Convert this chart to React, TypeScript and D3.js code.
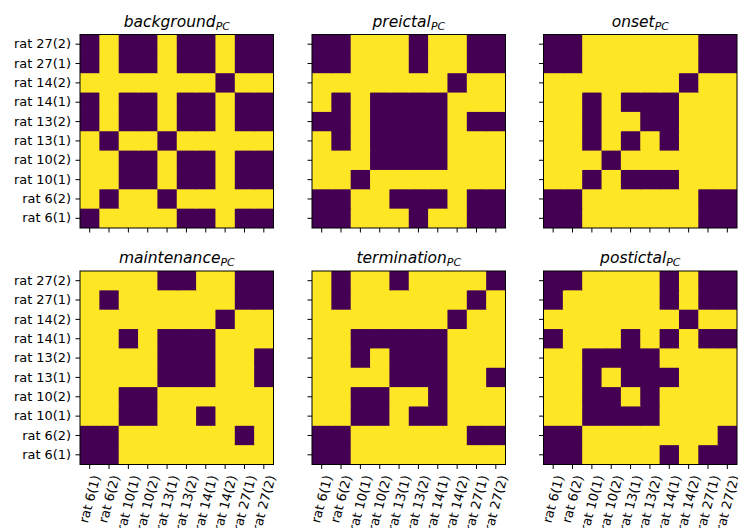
import React, { useEffect, useRef } from 'react';
import * as d3 from 'd3';

const cats = ["rat 6(1)", "rat 6(2)", "rat 10(1)", "rat 10(2)", "rat 13(1)", "rat 13(2)", "rat 14(1)", "rat 14(2)", "rat 27(1)", "rat 27(2)"];

// rows follow cats order (rat 6(1) first = bottom row), 1 = yellow, 0 = purple
const background = [
  [0, 1, 1, 1, 1, 0, 0, 1, 0, 0],
  [1, 0, 1, 1, 0, 1, 1, 1, 1, 1],
  [1, 1, 0, 0, 1, 0, 0, 1, 0, 0],
  [1, 1, 0, 0, 1, 0, 0, 1, 0, 0],
  [1, 0, 1, 1, 0, 1, 1, 1, 1, 1],
  [0, 1, 0, 0, 1, 0, 0, 1, 0, 0],
  [0, 1, 0, 0, 1, 0, 0, 1, 0, 0],
  [1, 1, 1, 1, 1, 1, 1, 0, 1, 1],
  [0, 1, 0, 0, 1, 0, 0, 1, 0, 0],
  [0, 1, 0, 0, 1, 0, 0, 1, 0, 0],
];

const preictal = [
  [0, 0, 1, 1, 1, 0, 1, 1, 0, 0],
  [0, 0, 1, 1, 0, 0, 0, 1, 0, 0],
  [1, 1, 0, 1, 1, 1, 1, 1, 1, 1],
  [1, 1, 1, 0, 0, 0, 0, 1, 1, 1],
  [1, 0, 1, 0, 0, 0, 0, 1, 1, 1],
  [0, 0, 1, 0, 0, 0, 0, 1, 0, 0],
  [1, 0, 1, 0, 0, 0, 0, 1, 1, 1],
  [1, 1, 1, 1, 1, 1, 1, 0, 1, 1],
  [0, 0, 1, 1, 1, 0, 1, 1, 0, 0],
  [0, 0, 1, 1, 1, 0, 1, 1, 0, 0],
];

const onset = [
  [0, 0, 1, 1, 1, 1, 1, 1, 0, 0],
  [0, 0, 1, 1, 1, 1, 1, 1, 0, 0],
  [1, 1, 0, 1, 0, 0, 0, 1, 1, 1],
  [1, 1, 1, 0, 1, 1, 1, 1, 1, 1],
  [1, 1, 0, 1, 0, 1, 0, 1, 1, 1],
  [1, 1, 0, 1, 1, 0, 0, 1, 1, 1],
  [1, 1, 0, 1, 0, 0, 0, 1, 1, 1],
  [1, 1, 1, 1, 1, 1, 1, 0, 1, 1],
  [0, 0, 1, 1, 1, 1, 1, 1, 0, 0],
  [0, 0, 1, 1, 1, 1, 1, 1, 0, 0],
];

const maintenance = [
  [0, 0, 1, 1, 1, 1, 1, 1, 1, 1],
  [0, 0, 1, 1, 1, 1, 1, 1, 0, 1],
  [1, 1, 0, 0, 1, 1, 0, 1, 1, 1],
  [1, 1, 0, 0, 1, 1, 1, 1, 1, 1],
  [1, 1, 1, 1, 0, 0, 0, 1, 1, 0],
  [1, 1, 1, 1, 0, 0, 0, 1, 1, 0],
  [1, 1, 0, 1, 0, 0, 0, 1, 1, 1],
  [1, 1, 1, 1, 1, 1, 1, 0, 1, 1],
  [1, 0, 1, 1, 1, 1, 1, 1, 0, 0],
  [1, 1, 1, 1, 0, 0, 1, 1, 0, 0],
];

const termination = [
  [0, 0, 1, 1, 1, 1, 1, 1, 1, 1],
  [0, 0, 1, 1, 1, 1, 1, 1, 0, 0],
  [1, 1, 0, 0, 1, 0, 0, 1, 1, 1],
  [1, 1, 0, 0, 1, 1, 0, 1, 1, 1],
  [1, 1, 1, 1, 0, 0, 0, 1, 1, 0],
  [1, 1, 0, 1, 0, 0, 0, 1, 1, 1],
  [1, 1, 0, 0, 0, 0, 0, 1, 1, 1],
  [1, 1, 1, 1, 1, 1, 1, 0, 1, 1],
  [1, 0, 1, 1, 1, 1, 1, 1, 0, 1],
  [1, 0, 1, 1, 0, 1, 1, 1, 1, 0],
];

const postictal = [
  [0, 0, 1, 1, 1, 1, 0, 1, 0, 0],
  [0, 0, 1, 1, 1, 1, 1, 1, 1, 0],
  [1, 1, 0, 0, 0, 0, 1, 1, 1, 1],
  [1, 1, 0, 0, 1, 0, 1, 1, 1, 1],
  [1, 1, 0, 1, 0, 0, 0, 1, 1, 1],
  [1, 1, 0, 0, 0, 0, 1, 1, 1, 1],
  [0, 1, 1, 1, 0, 1, 0, 1, 0, 0],
  [1, 1, 1, 1, 1, 1, 1, 0, 1, 1],
  [0, 1, 1, 1, 1, 1, 0, 1, 0, 0],
  [0, 0, 1, 1, 1, 1, 0, 1, 0, 0],
];

const titles = ["background", "preictal", "onset", "maintenance", "termination", "postictal"];
const matrices = [background, preictal, onset, maintenance, termination, postictal];

export default function App() {
  const svgRef = useRef<SVGSVGElement>(null);

  useEffect(() => {
    if (!svgRef.current) return;
    const svg = d3.select(svgRef.current);
    svg.selectAll("*").remove();

    const size = 193.5;
    const lefts = [80, 312, 543.5];
    const tops = [34.5, 271];
    const font = "DejaVu Sans, sans-serif";
    const tickFs = 12.9;
    const rot = 75;

    const color = d3.scaleSequential(d3.interpolateViridis).domain([0, 1]);
    const x = d3.scaleBand().domain(cats).range([0, size]);
    const y = d3.scaleBand().domain(cats).range([size, 0]);
    const bw = x.bandwidth();

    matrices.forEach((m, p) => {
      const col = p % 3;
      const row = Math.floor(p / 3);
      const g = svg.append("g").attr("transform", `translate(${lefts[col]},${tops[row]})`);

      // cells overlap a little so no seams show between equal neighbours
      const cells = m.flatMap((r, i) => r.map((v, j) => ({ i, j, v })));
      g.selectAll(".cell")
        .data(cells)
        .enter()
        .append("rect")
        .attr("x", d => x(cats[d.j])!)
        .attr("y", d => y(cats[d.i])! - (d.i < cats.length - 1 ? 0.8 : 0))
        .attr("width", d => bw + (d.j < cats.length - 1 ? 0.8 : 0))
        .attr("height", d => bw + (d.i < cats.length - 1 ? 0.8 : 0))
        .attr("fill", d => color(d.v));

      // spines
      g.append("rect")
        .attr("width", size).attr("height", size)
        .attr("fill", "none").attr("stroke", "black").attr("stroke-width", 1);

      // y ticks
      const yAx = g.append("g").call(
        d3.axisLeft(y).tickSize(4.5).tickPadding(4.5).tickSizeOuter(0)
          .tickFormat(col === 0 ? (d: string) => d : () => "")
      );
      yAx.select(".domain").remove();
      yAx.selectAll("line").attr("stroke", "black").attr("stroke-width", 1);
      yAx.selectAll("text").attr("font-family", font).attr("font-size", tickFs).attr("fill", "black");

      // x ticks
      const xAx = g.append("g").attr("transform", `translate(0,${size})`).call(
        d3.axisBottom(x).tickSize(4.5).tickSizeOuter(0).tickFormat(() => "")
      );
      xAx.select(".domain").remove();
      xAx.selectAll("line").attr("stroke", "black").attr("stroke-width", 1);

      if (row === 1) {
        const y0 = size + 9;
        const rad = (rot * Math.PI) / 180;
        const lh = tickFs * 1.17;
        cats.forEach(c => {
          const t = g.append("text")
            .attr("font-family", font)
            .attr("font-size", tickFs)
            .attr("text-anchor", "middle")
            .attr("dy", "0.35em")
            .text(c);
          const L = (t.node() as SVGTextElement).getComputedTextLength();
          const H = L * Math.sin(rad) + lh * Math.cos(rad);
          const cx = x(c)! + bw / 2;
          const cy = y0 + H / 2;
          t.attr("transform", `translate(${cx},${cy}) rotate(${-rot})`);
        });
      }

      // title
      const title = g.append("text")
        .attr("x", size / 2)
        .attr("y", -7.8)
        .attr("text-anchor", "middle")
        .attr("font-family", font)
        .attr("font-style", "italic")
        .attr("font-size", 15.5);
      title.append("tspan").text(titles[p]);
      title.append("tspan").attr("font-size", 10.9).attr("dy", 3.2).text("PC");
    });
  }, []);

  return (
    <svg ref={svgRef} width={738} height={528}
      style={{ position: 'absolute', left: 0, top: 0, background: 'white' }} />
  );
}
